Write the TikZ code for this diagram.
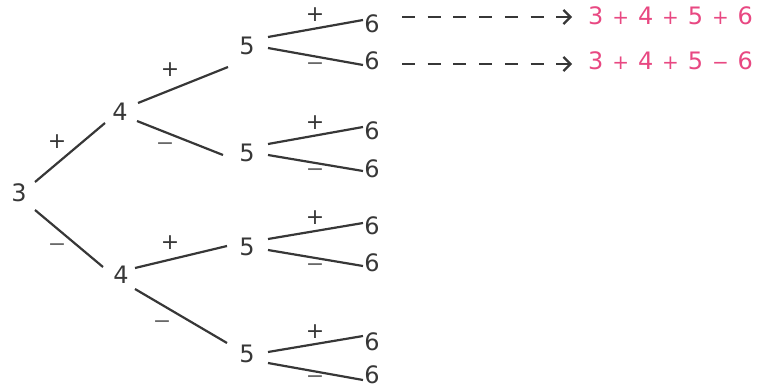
\documentclass[tikz,border=0pt]{standalone}
\usepackage{fontspec}
\setmainfont{DejaVu Sans}
\usetikzlibrary{arrows.meta}
\definecolor{ink}{RGB}{55,55,55}
\definecolor{lightink}{RGB}{105,105,105}
\definecolor{pinkish}{RGB}{232,72,130}
\newcommand\bigdig{\fontsize{24}{24}\selectfont}
\newcommand\smallsgn{\fontsize{22}{22}\selectfont}
\newcommand\pinksgn{\fontsize{20}{20}\selectfont}
\newcommand\pgap{\hspace{8.9pt}}
\tikzset{
  num/.style={inner sep=0pt, text=ink, font=\bigdig},
  plussign/.style={inner sep=0pt, text=ink, font=\smallsgn},
  minussign/.style={inner sep=0pt, text=lightink, font=\smallsgn},
  branch/.style={draw=ink, line width=2.2pt},
  formula/.style={inner sep=0pt, text=pinkish, font=\bigdig, anchor=west},
  dasharrow/.style={draw=ink, line width=2.8pt, dash pattern=on 13pt off 12.7pt,
    -{Straight Barb[length=7pt,width=14pt,line width=2.2pt]}}
}
\begin{document}
\begin{tikzpicture}[x=1pt,y=-1pt]
\useasboundingbox (0,0) rectangle (757,388);
% numbers
\node[num] (n3)  at (19,193) {3};
\node[num] (n4a) at (120,112) {4};
\node[num] (n4b) at (121,275) {4};
\node[num] (n5a) at (247,46) {5};
\node[num] (n5b) at (247,153) {5};
\node[num] (n5c) at (247,247) {5};
\node[num] (n5d) at (247,354) {5};
\node[num] (n6a) at (372,24) {6};
\node[num] (n6b) at (372,61) {6};
\node[num] (n6c) at (372,131) {6};
\node[num] (n6d) at (372,169) {6};
\node[num] (n6e) at (372,226) {6};
\node[num] (n6f) at (372,263) {6};
\node[num] (n6g) at (372,342) {6};
\node[num] (n6h) at (372,375) {6};
% branches
\draw[branch] ([shift={(16,-11)}]n3.center) -- ([shift={(-15,11)}]n4a.center);
\draw[branch] ([shift={(16,17)}]n3.center) -- ([shift={(-18,-8)}]n4b.center);
\draw[branch] ([shift={(18,-9)}]n4a.center) -- ([shift={(-19,21)}]n5a.center);
\draw[branch] ([shift={(17,9)}]n4a.center) -- ([shift={(-24,2)}]n5b.center);
\draw[branch] ([shift={(14,-7)}]n4b.center) -- ([shift={(-20,-1)}]n5c.center);
\draw[branch] ([shift={(14,14)}]n4b.center) -- ([shift={(-20,-11)}]n5d.center);
\draw[branch] ([shift={(21,-9)}]n5a.center) -- ([shift={(-9,-4)}]n6a.center);
\draw[branch] ([shift={(21,2)}]n5a.center) -- ([shift={(-9,4)}]n6b.center);
\draw[branch] ([shift={(21,-9)}]n5b.center) -- ([shift={(-9,-4)}]n6c.center);
\draw[branch] ([shift={(21,2)}]n5b.center) -- ([shift={(-9,2)}]n6d.center);
\draw[branch] ([shift={(21,-8)}]n5c.center) -- ([shift={(-9,-3)}]n6e.center);
\draw[branch] ([shift={(21,3)}]n5c.center) -- ([shift={(-9,3)}]n6f.center);
\draw[branch] ([shift={(21,-2)}]n5d.center) -- ([shift={(-9,-6)}]n6g.center);
\draw[branch] ([shift={(21,9)}]n5d.center) -- ([shift={(-9,5)}]n6h.center);
% signs
\node[plussign]  (s1)  at (57,142) {+};
\node[minussign] (s2)  at (57,248) {−};
\node[plussign]  (s3)  at (170,70) {+};
\node[minussign] (s4)  at (165,147) {−};
\node[plussign]  (s5)  at (170,243) {+};
\node[minussign] (s6)  at (162,325) {−};
\node[plussign]  (s7)  at (315,15) {+};
\node[minussign] (s8)  at (315,67) {−};
\node[plussign]  (s9)  at (315,123) {+};
\node[minussign] (s10) at (315,173) {−};
\node[plussign]  (s11) at (315,218) {+};
\node[minussign] (s12) at (315,268) {−};
\node[plussign]  (s13) at (315,332) {+};
\node[minussign] (s14) at (315,380) {−};
% formulas
\node[formula] (f1) at (588,16) {3\pgap{\pinksgn +}\pgap4\pgap{\pinksgn +}\pgap5\pgap{\pinksgn +}\pgap6};
\node[formula] (f2) at (588,61) {3\pgap{\pinksgn +}\pgap4\pgap{\pinksgn +}\pgap5\pgap{\pinksgn −}\pgap6};
% dashed arrows
\draw[dasharrow] ([shift={(30,-7)}]n6a.center) -- ([shift={(-16,1)}]f1.west);
\draw[dasharrow] ([shift={(30,3)}]n6b.center) -- ([shift={(-16,3)}]f2.west);
\end{tikzpicture}
\end{document}
